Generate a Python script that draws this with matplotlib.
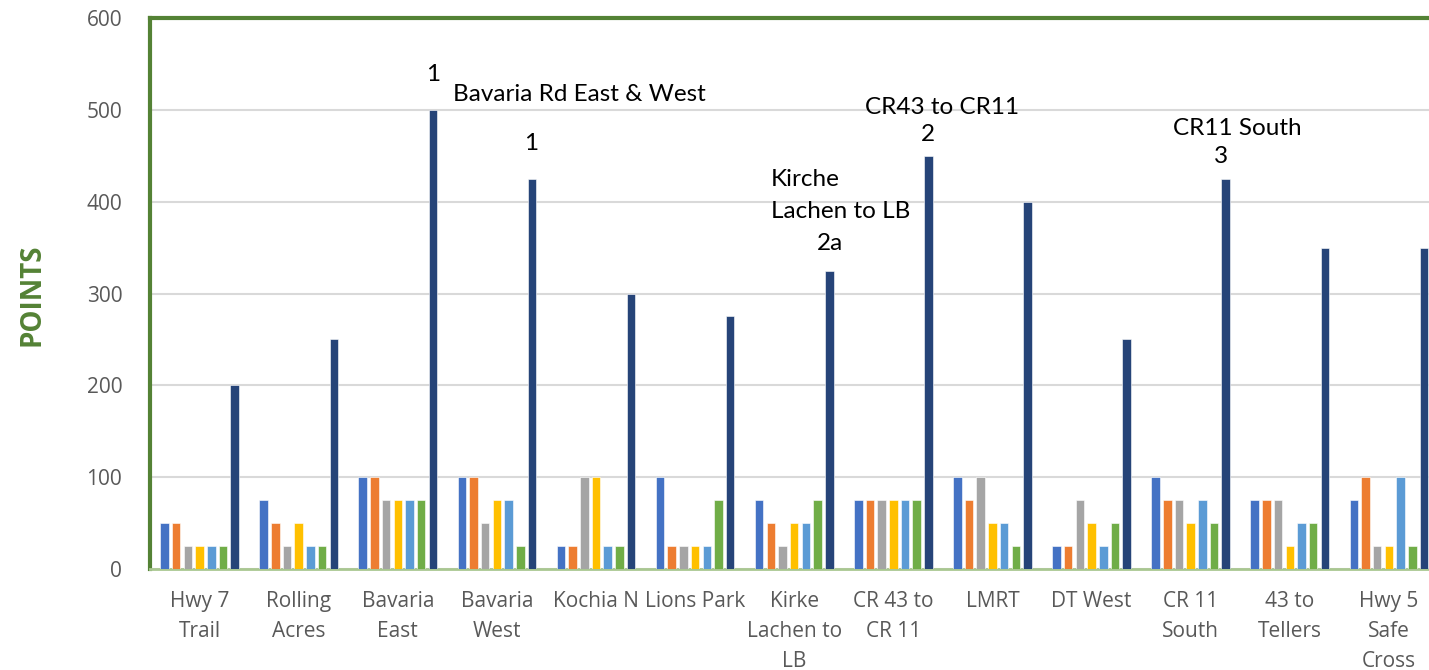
import numpy as np
import matplotlib
matplotlib.use('Agg')
import matplotlib.pyplot as plt

categories = ['Hwy 7\nTrail', 'Rolling\nAcres', 'Bavaria\nEast', 'Bavaria\nWest', 'Kochia N',
              'Lions Park', 'Kirke\nLachen to\nLB', 'CR 43 to\nCR 11', 'LMRT', 'DT West',
              'CR 11\nSouth', '43 to\nTellers', 'Hwy 5\nSafe\nCross']

s1 = [50, 75, 100, 100, 25, 100, 75, 75, 100, 25, 100, 75, 75]
s2 = [50, 50, 100, 100, 25, 25, 50, 75, 75, 25, 75, 75, 100]
s3 = [25, 25, 75, 50, 100, 25, 25, 75, 100, 75, 75, 75, 25]
s4 = [25, 50, 75, 75, 100, 25, 50, 75, 50, 50, 50, 25, 25]
s5 = [25, 25, 75, 75, 25, 25, 50, 75, 50, 25, 75, 50, 100]
s6 = [25, 25, 75, 25, 25, 75, 75, 75, 25, 50, 50, 50, 25]
total = [200, 250, 500, 425, 300, 275, 325, 450, 400, 250, 425, 350, 350]

series = [s1, s2, s3, s4, s5, s6, total]
colours = ['#4472C4', '#ED7D31', '#A5A5A5', '#FFC000', '#5B9BD5', '#70AD47', '#264478']

# (text, x, y, ha)
notes = [('1', 2.356, 538, 'center'),
         ('Bavaria Rd East & West', 2.557, 517, 'left'),
         ('1', 3.345, 463, 'center'),
         ('Kirche', 5.766, 424, 'left'),
         ('Lachen to LB', 5.766, 389, 'left'),
         ('2a', 6.362, 355, 'center'),
         ('CR43 to CR11', 7.49, 503, 'center'),
         ('2', 7.35, 473, 'center'),
         ('CR11 South', 10.47, 480, 'center'),
         ('3', 10.31, 449, 'center')]

green = '#548235'
fig = plt.figure(figsize=(14.29, 6.70), dpi=100)
ax = fig.add_axes([0.105, 0.1507, 0.9016, 0.8224])

x = np.arange(len(categories))
step, width = 0.118, 0.086
for i, vals in enumerate(series):
    ax.bar(x + (i - 3) * step, vals, width, color=colours[i], zorder=3,
           edgecolor='white', linewidth=0.4)

ax.set_xlim(-0.5, len(categories) - 0.5)
ax.set_ylim(0, 600)
ax.set_yticks(range(0, 601, 100))
ax.yaxis.grid(True, color='#D9D9D9', linewidth=1.5, zorder=0)
ax.set_xticks(x)
ax.set_xticklabels(categories, fontsize=15, color='#595959', family='Open Sans', linespacing=1.55)
for lab in ax.get_yticklabels():
    lab.set_fontsize(15)
    lab.set_color('#595959')
    lab.set_family('Open Sans')
ax.tick_params(axis='both', length=0)
ax.tick_params(axis='x', pad=16)
ax.tick_params(axis='y', pad=20)

for side in ['top', 'left']:
    ax.spines[side].set_color(green)
    ax.spines[side].set_linewidth(3)
ax.spines['right'].set_visible(False)
ax.spines['bottom'].set_color('#A9C791')
ax.spines['bottom'].set_linewidth(2)

for txt, tx, ty, ha in notes:
    ax.text(tx, ty, txt, ha=ha, va='center', fontsize=17.5, family='Lato', color='black', zorder=4)

fig.text(0.0225, 0.56, 'POINTS', rotation=90, ha='center', va='center',
         fontsize=20, fontweight='bold', color=green, family='Open Sans')

fig.savefig('out.png', dpi=100)
